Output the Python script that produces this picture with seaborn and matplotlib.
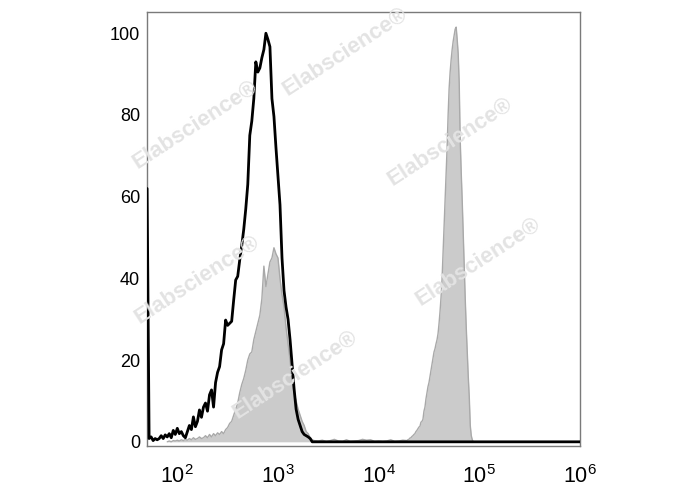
import numpy as np
import matplotlib
matplotlib.use("Agg")
import matplotlib.pyplot as plt
import seaborn as sns

# ---------------- data ----------------
# black (open) histogram: log10 channel grid start / step, and counts (% of max)
black_log_x0 = 1.70
black_log_step = 0.02
black_vals = [62, 0.8, 1.2, 0.3, 0.8, 0.5, 0.8, 1.5, 0.8, 1.7,
              1.2, 2.0, 1.0, 2.8, 1.8, 3.3, 2.0, 2.5, 1.5, 1.0,
              2.5, 4.0, 3.0, 6.1, 3.7, 5.0, 7.8, 6.0, 8.5, 9.5,
              7.5, 11.5, 12.7, 8.5, 14.5, 17.0, 18.4, 22.5, 24.0, 29.8,
              28.5, 29.0, 29.5, 34.7, 39.6, 40.5, 44.5, 48.0, 52.0, 57.0,
              63.0, 75.0, 78.5, 84.0, 93.0, 90.5, 91.5, 94.0, 96.0, 100.0,
              98.5, 96.7, 84.0, 79.6, 72.0, 65.0, 58.0, 45.0, 37.0, 33.0,
              30.0, 25.0, 19.0, 13.0, 8.0, 5.5, 4.0, 2.5, 1.8, 1.5,
              1.2, 0.8, 0.0]

# grey (filled) histogram, low-intensity peak
grey1_log_x0 = 1.90
grey1_log_step = 0.02
grey1_vals = [0.0, 0.2, 0.0, 0.3, 0.2, 0.4, 0.2, 0.5, 0.3, 0.6,
              0.4, 0.8, 0.5, 1.0, 0.6, 0.8, 1.2, 0.8, 1.0, 1.5,
              1.0, 1.8, 1.2, 2.0, 1.5, 2.2, 1.8, 2.5, 2.0, 3.0,
              3.5, 4.5, 5.0, 6.5, 8.0, 9.5, 12.0, 14.0, 15.5, 17.5,
              20.0, 21.5, 22.0, 25.0, 27.0, 29.0, 31.0, 35.0, 43.0, 38.0,
              41.0, 44.0, 45.0, 47.5, 46.0, 45.0, 40.0, 36.0, 33.0, 28.0,
              24.0, 20.0, 15.0, 12.0, 10.0, 8.0, 6.5, 5.0, 4.0, 2.5,
              2.0, 1.0, 0.5, 0.3]

# grey background noise between the peaks
grey_noise_log_x0 = 3.40
grey_noise_log_step = 0.04
grey_noise_vals = [0.2, 0.4, 0.1, 0.3, 0.6, 0.2, 0.1, 0.5, 0.1, 0.2,
                   0.3, 0.6, 0.4, 0.5, 0.1, 0.2, 0.1, 0.2, 0.5, 0.1,
                   0.2, 0.4]

# grey (filled) histogram, bright peak
grey2_log_x0 = 4.28
grey2_log_step = 0.01
grey2_vals = [0.3, 0.5, 0.6, 0.9, 1.0, 1.3, 1.5, 1.8, 2.0, 2.5,
              2.8, 3.2, 3.6, 3.8, 4.8, 5.0, 5.5, 7.5, 8.5, 10.5,
              12.0, 13.5, 14.5, 16.0, 17.5, 19.0, 20.5, 22.0, 22.8, 24.0,
              25.0, 26.5, 29.0, 32.0, 35.5, 40.0, 46.5, 53.5, 59.5, 66.5,
              72.0, 80.0, 86.5, 90.5, 93.5, 96.0, 98.0, 99.5, 101.0, 101.5,
              98.5, 95.0, 88.0, 74.0, 66.0, 59.0, 51.0, 43.0, 35.0, 28.0,
              22.0, 16.0, 11.0, 4.0, 1.5, 0.5, 0.0]

axis_end = 1e6
y_ticks = [0, 20, 40, 60, 80, 100]
x_ticks = [1e2, 1e3, 1e4, 1e5, 1e6]
x_tick_labels = [r"$\mathregular{10^{2}}$", r"$\mathregular{10^{3}}$",
                 r"$\mathregular{10^{4}}$", r"$\mathregular{10^{5}}$",
                 r"$\mathregular{10^{6}}$"]
watermark = "Elabscience®"


def series(x0, step, vals):
    lx = x0 + step * np.arange(len(vals))
    return 10 ** lx, np.asarray(vals, dtype=float)


bx, by = series(black_log_x0, black_log_step, black_vals)
bx = np.append(bx, axis_end)
by = np.append(by, 0.0)

g1x, g1y = series(grey1_log_x0, grey1_log_step, grey1_vals)
gnx, gny = series(grey_noise_log_x0, grey_noise_log_step, grey_noise_vals)
g2x, g2y = series(grey2_log_x0, grey2_log_step, grey2_vals)
gx = np.concatenate([g1x, gnx, g2x, [axis_end]])
gy = np.concatenate([g1y, gny, g2y, [0.0]])

# ---------------- figure ----------------
sns.set_style("white")
plt.rcParams["font.family"] = ["Liberation Sans", "DejaVu Sans"]
plt.rcParams["mathtext.default"] = "regular"

fig = plt.figure(figsize=(6.88, 4.90), dpi=100)
ax = fig.add_axes([147 / 688, 1 - 445.7 / 490, (580 - 147) / 688, (445.7 - 12) / 490])

# watermarks
for (px, py) in [(345, 52), (195, 125), (450, 142), (197, 280), (478, 262), (295, 375)]:
    fig.text(px / 688, 1 - py / 490, watermark, fontsize=16, fontweight="bold",
             color="#e3e3e3", rotation=33, ha="center", va="center", zorder=0)

ax.set_facecolor("none")
ax.fill_between(gx, gy, 0, color="#cbcbcb", linewidth=0, zorder=2)
sns.lineplot(x=gx, y=gy, ax=ax, color="#a9a9a9", linewidth=1.0, sort=False,
             estimator=None, zorder=3)
sns.lineplot(x=bx, y=by, ax=ax, color="black", linewidth=2.0, sort=False,
             estimator=None, zorder=4)

ax.set_xscale("log")
ax.set_xlim(10 ** 1.699, 1e6)
ax.set_ylim(-0.95, 105.2)

ax.set_yticks(y_ticks)
ax.set_yticklabels([str(v) for v in y_ticks], fontsize=13)
ax.set_xticks(x_ticks)
ax.set_xticklabels(x_tick_labels, fontsize=15.5)
ax.xaxis.set_minor_locator(matplotlib.ticker.LogLocator(base=10, subs=np.arange(2, 10)))
ax.xaxis.set_minor_formatter(matplotlib.ticker.NullFormatter())

ax.tick_params(axis="y", which="major", direction="out", length=4, width=0.8,
               color="#888888", pad=1, labelcolor="black")
ax.tick_params(axis="x", which="major", direction="out", length=4, width=0.8,
               color="#888888", pad=10, labelcolor="black")
ax.tick_params(axis="x", which="minor", direction="out", length=2, width=0.6,
               color="#aaaaaa")

for s in ax.spines.values():
    s.set_color("#7a7a7a")
    s.set_linewidth(1.0)
    s.set_visible(True)

ax.set_xlabel("")
ax.set_ylabel("")

fig.savefig("out.png", dpi=100)
